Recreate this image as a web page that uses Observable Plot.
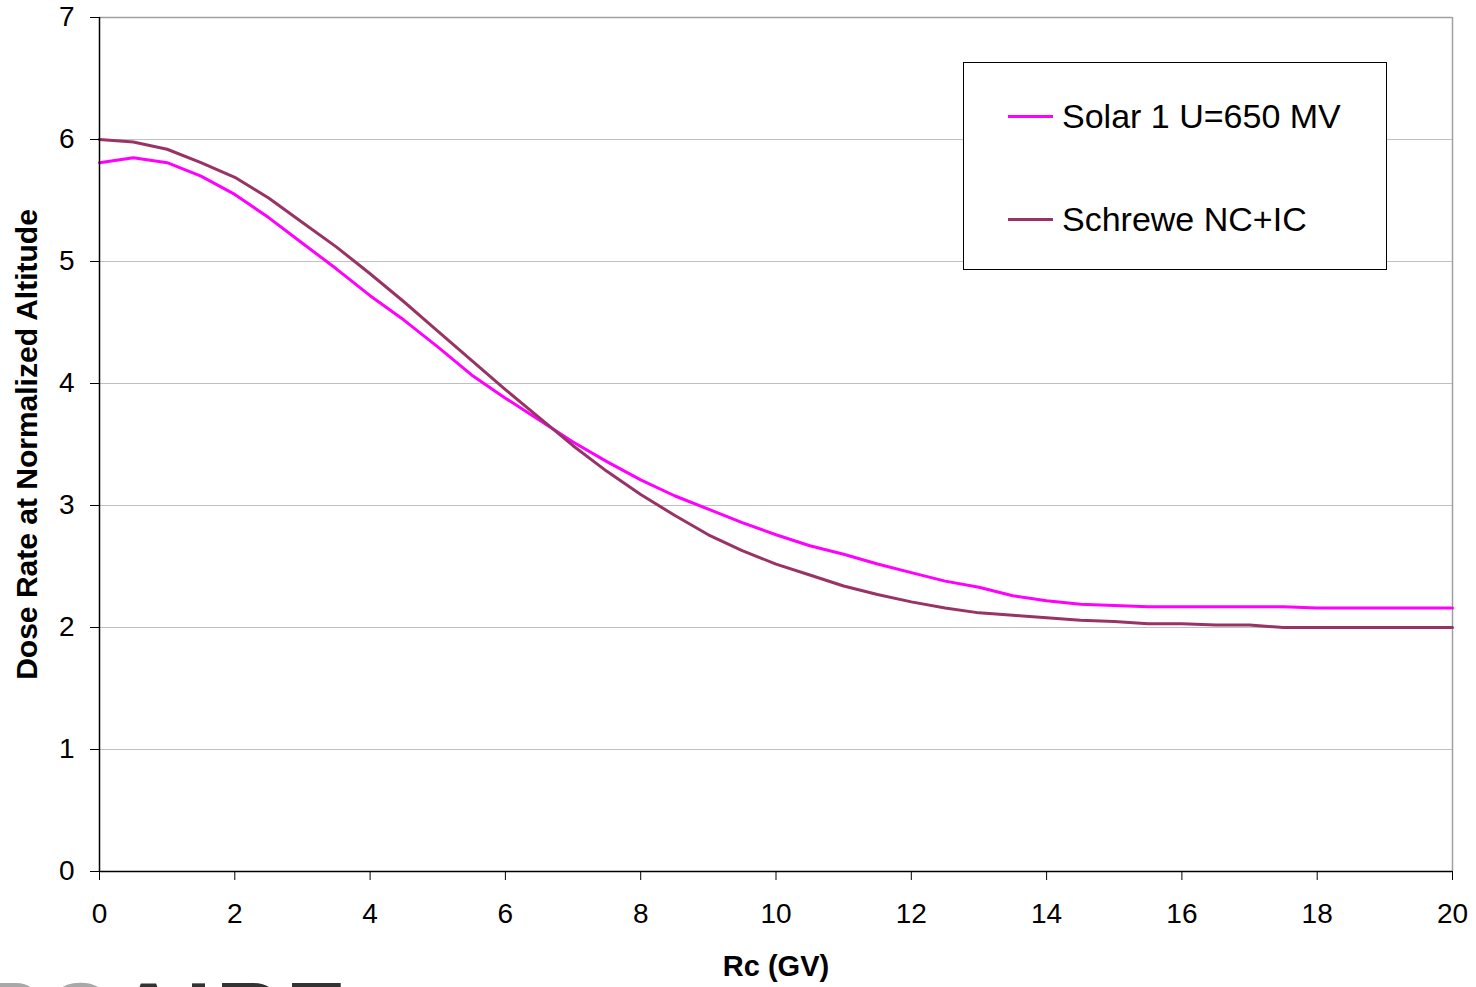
<!DOCTYPE html>
<html><head><meta charset="utf-8">
<script src="https://cdn.jsdelivr.net/npm/d3@7"></script>
<script src="https://cdn.jsdelivr.net/npm/@observablehq/plot@0.6"></script>
<style>
body{margin:0;background:#fff;font-family:"Liberation Sans",Arial,sans-serif;}
#wrap{position:relative;width:1476px;height:987px;overflow:hidden;}
#legend{position:absolute;left:963px;top:62px;width:422px;height:206px;border:1px solid #000;background:#fff;box-sizing:content-box;}
.item{position:absolute;left:44px;display:flex;align-items:center;font-size:34px;line-height:40px;height:40px;color:#000;white-space:nowrap;}
.item span.sw{display:inline-block;width:45px;height:3px;margin-right:9px;}
#mark{position:absolute;left:0;top:0;pointer-events:none;}
</style></head>
<body><div id="wrap"><div id="legend"></div>
<svg id="mark" width="1476" height="987"><text x="-19" y="1046" font-family="Liberation Sans, Arial, sans-serif" font-weight="bold" font-size="90" letter-spacing="5"><tspan fill="#a8a8a8">PC</tspan><tspan fill="#333">AIRE</tspan></text></svg>
</div>
<script>
const rc = d3.range(0, 20.01, 0.5);
const solar = [5.81,5.85,5.81,5.70,5.55,5.36,5.15,4.94,4.72,4.52,4.30,4.07,3.88,3.70,3.52,3.36,3.21,3.08,2.97,2.86,2.76,2.67,2.60,2.52,2.45,2.38,2.33,2.26,2.22,2.19,2.18,2.17,2.17,2.17,2.17,2.17,2.16,2.16,2.16,2.16,2.16];
const schrewe = [6.00,5.98,5.92,5.81,5.69,5.52,5.32,5.12,4.90,4.67,4.43,4.19,3.95,3.72,3.49,3.28,3.09,2.92,2.76,2.63,2.52,2.43,2.34,2.27,2.21,2.16,2.12,2.10,2.08,2.06,2.05,2.03,2.03,2.02,2.02,2.00,2.00,2.00,2.00,2.00,2.00];
const seriesNames = ["Solar 1 U=650 MV", "Schrewe NC+IC"];
const seriesColors = ["#ff00ff", "#993366"];
const xTicks = [0,2,4,6,8,10,12,14,16,18,20];
const yTicks = [0,1,2,3,4,5,6,7];

const rows = [];
rc.forEach((x,i)=>{
  rows.push({rc:x, v:solar[i], s:seriesNames[0]});
  rows.push({rc:x, v:schrewe[i], s:seriesNames[1]});
});

const chart = Plot.plot({
  width: 1476, height: 987,
  marginLeft: 99, marginRight: 24, marginTop: 17, marginBottom: 116,
  style: {fontFamily: '"Liberation Sans", Arial, sans-serif', fontSize: "28px", color: "#000", background: "#fff"},
  x: {domain: [0,20], label: null},
  y: {domain: [0,7], label: null},
  color: {domain: seriesNames, range: seriesColors},
  marks: [
    Plot.gridY(yTicks.filter(d=>d>0 && d<7), {stroke: "#c0c0c0", strokeOpacity: 1, strokeWidth: 1}),
    Plot.ruleY([7], {stroke: "#a0a0a0", strokeWidth: 1.5}),
    Plot.ruleX([20], {stroke: "#a0a0a0", strokeWidth: 1.5}),
    Plot.line(rows, {x: "rc", y: "v", z: "s", stroke: "s", strokeWidth: 3, curve: "linear"}),
    Plot.axisX({ticks: xTicks, tickSize: 9, tickPadding: 23, fontSize: 28, label: null, tickFormat: "d"}),
    Plot.axisY({ticks: yTicks, tickSize: 9, tickPadding: 16, fontSize: 28, label: null, tickFormat: "d"}),
    Plot.ruleX([0], {stroke: "#000", strokeWidth: 1.5}),
    Plot.ruleY([0], {stroke: "#000", strokeWidth: 1.5}),
    Plot.text(["Rc (GV)"], {frameAnchor: "bottom", dy: 104, fontWeight: "bold", fontSize: 29}),
    Plot.text(["Dose Rate at Normalized Altitude"], {frameAnchor: "left", textAnchor: "middle", dx: -72, rotate: -90, fontWeight: "bold", fontSize: 30})
  ]
});
chart.style.position = "absolute";
chart.style.left = "0px";
chart.style.top = "0px";
const wrap = document.getElementById("wrap");
wrap.insertBefore(chart, wrap.firstChild);

const legend = document.getElementById("legend");
seriesNames.forEach((n,i)=>{
  const d = document.createElement("div");
  d.className = "item";
  d.style.top = (i===0 ? 33 : 136) + "px";
  d.innerHTML = `<span class="sw" style="background:${seriesColors[i]}"></span>${n}`;
  legend.appendChild(d);
});
</script>
</body></html>
